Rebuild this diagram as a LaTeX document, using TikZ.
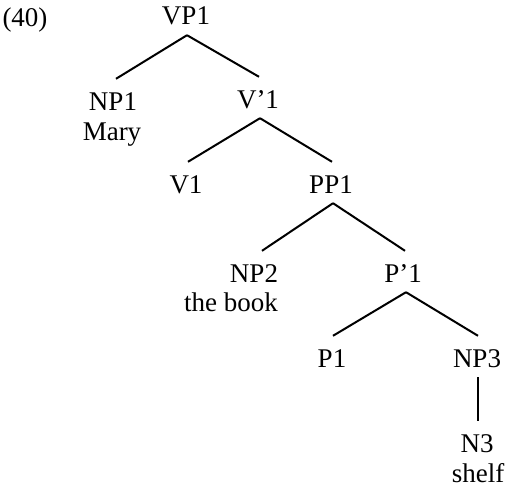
\documentclass[tikz,border=0pt]{standalone}
\usepackage{fontspec}
\setmainfont{Liberation Serif}
\begin{document}
\begin{tikzpicture}[x=1pt,y=-1pt,
  cat/.style={anchor=base,font=\fontsize{27}{31}\selectfont,
              text height=21pt,text depth=0pt,inner xsep=0pt,inner ysep=10pt},
  word/.style={anchor=base,font=\fontsize{27}{31}\selectfont,inner sep=0pt},
  branch/.style={line width=2pt}]
\useasboundingbox (0,0) rectangle (505,487);

% example number
\node[word] (ex) at (25,27) {(40)};

% category labels
\node[cat] (vp1) at (186,25) {VP1};
\node[cat] (np1) at (113,110) {NP1};
\node[cat] (vbar1) at (258,108) {V’1};
\node[cat] (v1) at (186,193) {V1};
\node[cat] (pp1) at (331,193) {PP1};
\node[cat] (np2) at (254,282) {NP2};
\node[cat] (pbar1) at (403,282) {P’1};
\node[cat] (p1) at (332,367) {P1};
\node[cat] (np3) at (477,367) {NP3};
\node[cat] (n3) at (477,452) {N3};

% lexical material
\node[word] (mary) at (112,140) {Mary};
\node[word] (book) at (231,311) {the book};
\node[word] (shelf) at (478,482) {shelf};

% branches
\draw[branch] ([xshift=1pt]vp1.south) -- ([xshift=3pt]np1.north);
\draw[branch] ([xshift=1pt]vp1.south) -- ([xshift=1pt]vbar1.north);
\draw[branch] ([xshift=2pt]vbar1.south) -- ([xshift=2pt]v1.north);
\draw[branch] ([xshift=2pt]vbar1.south) -- ([xshift=1pt]pp1.north);
\draw[branch] ([xshift=2pt]pp1.south) -- ([xshift=8pt]np2.north);
\draw[branch] ([xshift=2pt]pp1.south) -- ([xshift=2pt]pbar1.north);
\draw[branch] ([xshift=3pt]pbar1.south) -- ([xshift=1pt]p1.north);
\draw[branch] ([xshift=3pt]pbar1.south) -- ([xshift=1pt]np3.north);
\draw[branch] ([xshift=1pt]np3.south) -- ([xshift=1pt]n3.north);
\end{tikzpicture}
\end{document}
